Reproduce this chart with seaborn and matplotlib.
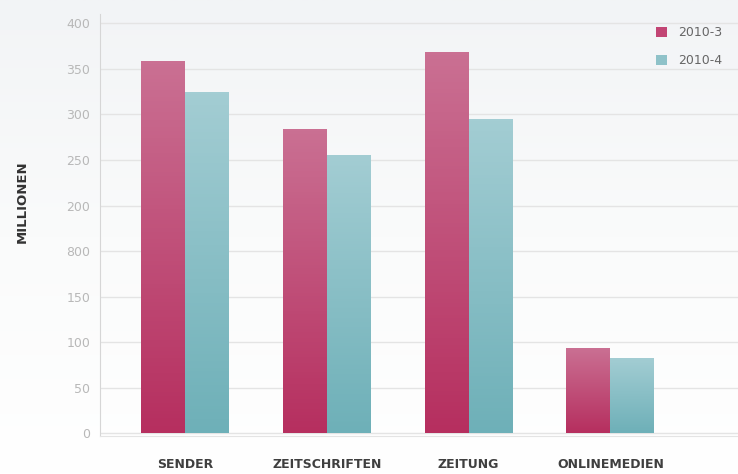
import numpy as np
import pandas as pd
import matplotlib
matplotlib.use("Agg")
import matplotlib.pyplot as plt
import matplotlib.colors as mcolors
import seaborn as sns

# Werte (Position auf der Achse)
kanaele = ["SENDER", "ZEITSCHRIFTEN", "ZEITUNG", "ONLINEMEDIEN"]
werte_2010_3 = [409, 334, 419, 94]
werte_2010_4 = [375, 306, 345, 83]
perioden = ["2010-3", "2010-4"]
# die Achsenbeschriftung im Original (inkl. "800")
ytick_pos = [0, 50, 100, 150, 200, 250, 300, 350, 400, 450]
ytick_labels = ["0", "50", "100", "150", "800", "200", "250", "300", "350", "400"]

df = pd.DataFrame({
    "kanal": kanaele * 2,
    "wert": werte_2010_3 + werte_2010_4,
    "periode": [perioden[0]] * 4 + [perioden[1]] * 4,
})

pink_top, pink_bot = "#ca7093", "#b62f5f"
teal_top, teal_bot = "#a3cdd3", "#6eb0b8"

sns.set_style("white")
plt.rcParams["font.family"] = ["DejaVu Sans"]

fig = plt.figure(figsize=(7.38, 4.74), dpi=100)

# Hintergrund: leichter Verlauf von grau (oben) nach weiss
bg = fig.add_axes([0, 0, 1, 1], zorder=-10)
grad = np.linspace(0, 1, 256).reshape(-1, 1)
bg_cmap = mcolors.LinearSegmentedColormap.from_list("bg", ["#f2f4f6", "#fafbfb", "#ffffff"])
bg.imshow(grad, aspect="auto", cmap=bg_cmap, extent=[0, 1, 0, 1])
bg.axis("off")

ax = fig.add_axes([0.1355, 0.080, 0.8645, 0.890])
ax.patch.set_alpha(0)

sns.barplot(data=df, x="kanal", y="wert", hue="periode",
            palette=[pink_bot, teal_bot], width=0.62, dodge=True,
            saturation=1, ax=ax, linewidth=0)

# Verlauf in jedem Balken
cmaps = {
    0: mcolors.LinearSegmentedColormap.from_list("p", [pink_bot, pink_top]),
    1: mcolors.LinearSegmentedColormap.from_list("t", [teal_bot, teal_top]),
}
bars = [p for p in ax.patches if p.get_height() > 0]
for i, p in enumerate(bars):
    x0, y0 = p.get_x(), p.get_y()
    w, h = p.get_width(), p.get_height()
    im = ax.imshow(np.linspace(0, 1, 100).reshape(-1, 1), cmap=cmaps[i // 4],
                   origin="lower", aspect="auto",
                   extent=[x0, x0 + w, y0, y0 + h], zorder=3)
    im.set_clip_path(p)

ax.set_xlim(-0.6, 3.9)
ax.set_ylim(-3, 460)

ax.set_yticks(ytick_pos)
ax.set_yticklabels(ytick_labels)
ax.yaxis.grid(True, color="#e4e4e4", linewidth=1)
ax.set_axisbelow(True)
ax.tick_params(axis="y", length=0, pad=7, labelsize=9, labelcolor="#b8b8b8")
ax.tick_params(axis="x", length=0, pad=16, labelsize=9, labelcolor="#3f3f3f")
for lab in ax.get_xticklabels():
    lab.set_fontweight("semibold")

ax.set_xlabel("")
ax.set_ylabel("")
for s in ["top", "right"]:
    ax.spines[s].set_visible(False)
ax.spines["left"].set_color("#d6d6d6")
ax.spines["bottom"].set_color("#e4e4e4")

fig.text(22 / 738, 1 - 202 / 474, "MILLIONEN", rotation=90, ha="center", va="center",
         fontsize=9.5, fontweight="bold", color="#333333")

handles, labels = ax.get_legend_handles_labels()
handles[0].set_facecolor("#c24574")
handles[1].set_facecolor("#8fc2c9")
ax.legend(handles, labels, frameon=False, loc="upper left",
          bbox_to_anchor=(645 / 738, 1 - 15 / 474), bbox_transform=fig.transFigure,
          handlelength=0.85, handleheight=0.85, handletextpad=0.9,
          labelspacing=1.2, fontsize=9, labelcolor="#666666")

fig.savefig("out.png", dpi=100)
